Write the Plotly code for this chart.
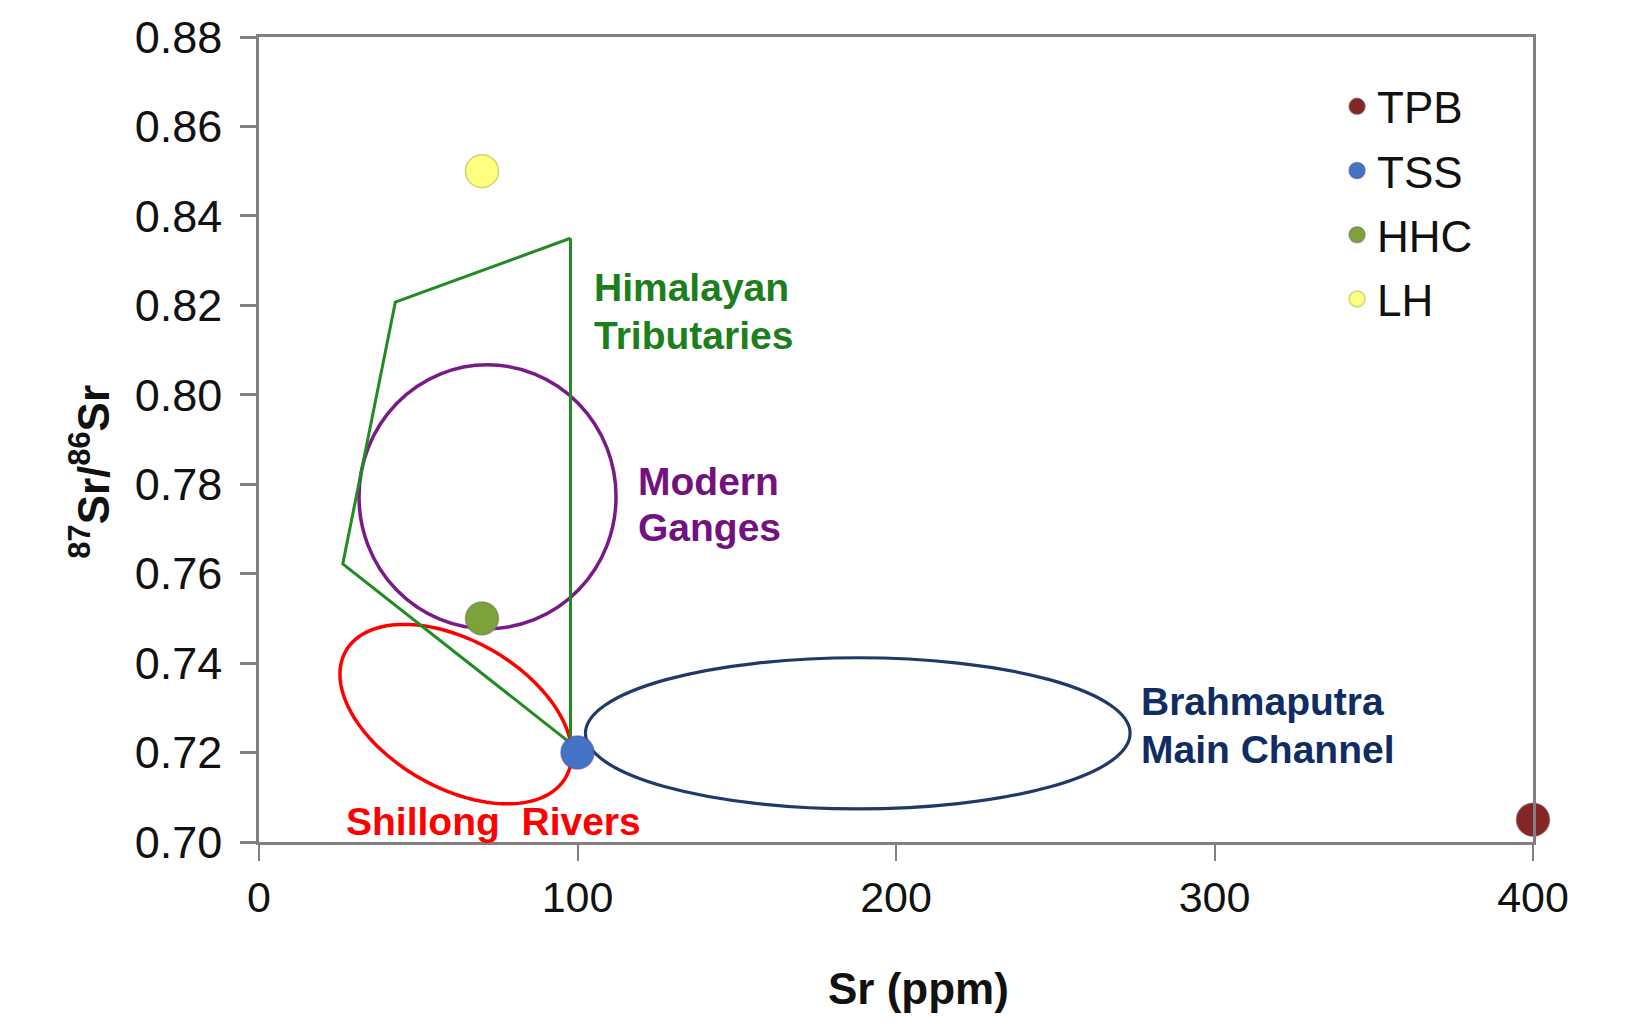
import numpy as np
import plotly.graph_objects as go

# ---------------- data ----------------
groups = ["TPB", "TSS", "HHC", "LH"]
sr_ppm = [400, 100, 70, 70]
sr_ratio = [0.705, 0.720, 0.750, 0.850]
group_colors = ["#852626", "#4473C5", "#7DA23B", "#FFFF80"]
group_edges = ["rgba(110,70,70,0.6)", "rgba(80,80,170,0.6)", "rgba(110,120,90,0.6)", "rgba(200,210,110,0.9)"]

# Himalayan Tributaries field (polygon vertices)
trib_x = [97.8, 42.8, 26.3, 97.8, 97.8]
trib_y = [0.8350, 0.8207, 0.7622, 0.7221, 0.8350]

# Modern Ganges field (centre, semi-axes)
ganges_center = [71.75, 0.7772]
ganges_radius = [40.35, 0.0295]

# Brahmaputra Main Channel field (centre, semi-axes)
brahm_center = [188.0, 0.7243]
brahm_radius = [85.5, 0.0169]

# Shillong Rivers field (centre and two conjugate semi-axis vectors)
shill_center = [61.8, 0.7286]
shill_axis1 = [34.5, -0.01416]
shill_axis2 = [-11.54, -0.01421]

# field labels, one entry per text line
label_lines = ["Himalayan", "Tributaries", "Modern", "Ganges",
               "Brahmaputra", "Main Channel", "Shillong  Rivers"]
label_x = [104.4, 104.4, 118.4, 118.4, 276.3, 276.3, 26.6]
label_y = [0.8241, 0.8133, 0.7807, 0.7704, 0.7315, 0.7207, 0.7046]
label_colors = ["#1C7F1C", "#1C7F1C", "#72117F", "#72117F",
                "#0F2D63", "#0F2D63", "#FF0000"]

x_ticks = [0, 100, 200, 300, 400]
y_ticks = [0.70, 0.72, 0.74, 0.76, 0.78, 0.80, 0.82, 0.84, 0.86, 0.88]

FONT = "Liberation Sans, Arial, sans-serif"
AXIS_GREY = "#808080"

fig = go.Figure()

# polygon outline
fig.add_trace(go.Scatter(
    x=trib_x, y=trib_y, mode="lines",
    line=dict(color="#228B22", width=3),
    showlegend=False, hoverinfo="skip",
))

# sample points
for name, xv, yv, c, e in zip(groups, sr_ppm, sr_ratio, group_colors, group_edges):
    fig.add_trace(go.Scatter(
        x=[xv], y=[yv], mode="markers", name=name,
        legendgroup=name,
        marker=dict(size=33, color=c, line=dict(color=e, width=1.5)),
        cliponaxis=False,
    ))

# ellipses / circles
shapes = []
shapes.append(dict(
    type="circle", xref="x", yref="y", layer="below",
    x0=ganges_center[0] - ganges_radius[0], x1=ganges_center[0] + ganges_radius[0],
    y0=ganges_center[1] - ganges_radius[1], y1=ganges_center[1] + ganges_radius[1],
    line=dict(color="#7A1A8A", width=3.5),
))
shapes.append(dict(
    type="circle", xref="x", yref="y", layer="below",
    x0=brahm_center[0] - brahm_radius[0], x1=brahm_center[0] + brahm_radius[0],
    y0=brahm_center[1] - brahm_radius[1], y1=brahm_center[1] + brahm_radius[1],
    line=dict(color="#1F3A68", width=3.2),
))
t = np.linspace(0, 2 * np.pi, 181)
ex = shill_center[0] + shill_axis1[0] * np.cos(t) + shill_axis2[0] * np.sin(t)
ey = shill_center[1] + shill_axis1[1] * np.cos(t) + shill_axis2[1] * np.sin(t)
path = "M " + " L ".join(f"{a:.4f},{b:.6f}" for a, b in zip(ex, ey)) + " Z"
shapes.append(dict(
    type="path", xref="x", yref="y", layer="below", path=path,
    line=dict(color="#FF0000", width=3.5),
))

annotations = []
for txt, ax, ay, col in zip(label_lines, label_x, label_y, label_colors):
    annotations.append(dict(
        x=ax, y=ay, xref="x", yref="y", text=f"<b>{txt}</b>", showarrow=False,
        xanchor="left", yanchor="middle", align="left",
        font=dict(family=FONT, size=39, color=col),
    ))

# axis titles
annotations.append(dict(
    x=0.518, y=-0.182, xref="paper", yref="paper", text="<b>Sr (ppm)</b>",
    showarrow=False, xanchor="center", yanchor="middle",
    font=dict(family=FONT, size=44, color="#111111"),
))
annotations.append(dict(
    x=-0.1327, y=0.46, xref="paper", yref="paper",
    text="<b><sup>87</sup>Sr/<sup>86</sup>Sr</b>", textangle=-90,
    showarrow=False, xanchor="center", yanchor="middle",
    font=dict(family=FONT, size=44, color="#111111"),
))

fig.update_layout(
    width=1645, height=1033,
    margin=dict(l=259, r=112, t=35, b=191, pad=0),
    paper_bgcolor="white", plot_bgcolor="white",
    font=dict(family=FONT, size=43, color="#111111"),
    shapes=shapes, annotations=annotations,
    showlegend=True,
    legend=dict(
        x=0.8462, y=0.9575, xanchor="left", yanchor="top",
        traceorder="grouped", tracegroupgap=4,
        font=dict(family=FONT, size=44, color="#111111"),
        bgcolor="rgba(0,0,0,0)", itemsizing="trace",
    ),
)
fig.update_xaxes(
    range=[0, 400], tickvals=x_ticks, ticktext=[str(v) for v in x_ticks],
    showgrid=False, zeroline=False,
    showline=True, linecolor=AXIS_GREY, linewidth=2.5, mirror=True,
    ticks="outside", ticklen=16, tickwidth=2, tickcolor=AXIS_GREY,
    tickfont=dict(family=FONT, size=43, color="#111111"),
    ticklabelstandoff=0,
)
fig.update_yaxes(
    range=[0.70, 0.88], tickvals=y_ticks, ticktext=[f"{v:.2f}" for v in y_ticks],
    showgrid=False, zeroline=False,
    showline=True, linecolor=AXIS_GREY, linewidth=2.5, mirror=True,
    ticks="outside", ticklen=16, tickwidth=2.5, tickcolor=AXIS_GREY,
    tickfont=dict(family=FONT, size=45, color="#111111"),
    ticklabelstandoff=9,
)

fig.write_html("out.html")
